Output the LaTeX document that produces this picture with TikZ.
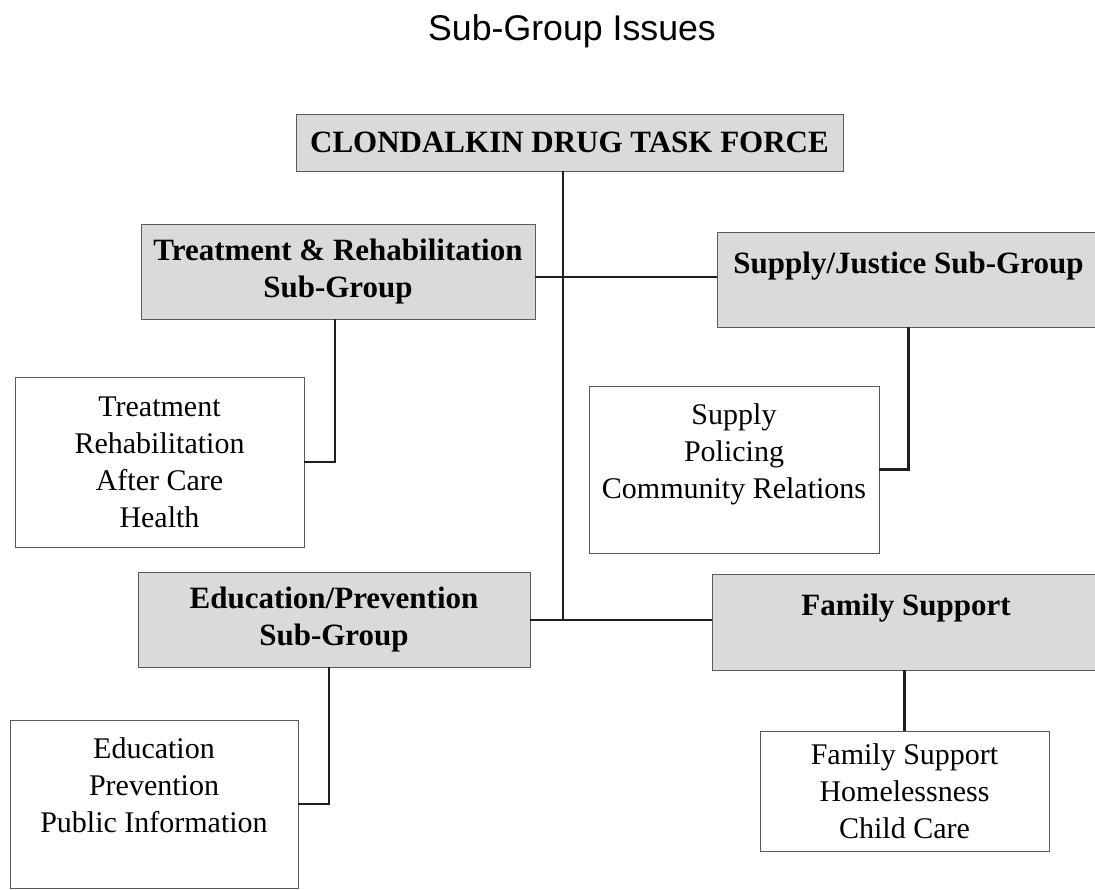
\documentclass[tikz,border=0pt]{standalone}
\usepackage{fontspec}
\setmainfont{Liberation Serif}
\newfontfamily\titlefont{Liberation Sans}
\usetikzlibrary{positioning}
\definecolor{SGFill}{RGB}{218, 218, 220}
\definecolor{SGEdge}{RGB}{90, 90, 90}
\definecolor{SGLine}{RGB}{30, 30, 30}

\begin{document}
\begin{tikzpicture}[
  x=1pt, y=-1pt,
  every node/.style={inner sep=0pt, outer sep=0pt},
  head/.style={draw=SGEdge, line width=0.9pt, fill=SGFill, align=center,
               font=\fontsize{31}{37}\selectfont\bfseries},
  list/.style={draw=SGEdge, line width=0.9pt, fill=white, align=center,
               font=\fontsize{30}{37}\selectfont},
  link/.style={line width=2.5pt, draw=SGLine}
]
  \useasboundingbox (0,0) rectangle (1095,890);

  %% Title
  \node[font=\titlefont\fontsize{35.7}{43}\selectfont] (title) at (572,31) {Sub-Group Issues};

  %% Nodes
  \node[head, minimum width=547, minimum height=57]  (top)  at (569.5,142.5) {CLONDALKIN DRUG TASK FORCE};
  \node[head, minimum width=394, minimum height=95]  (tr)   at (338,271.5)   {Treatment \& Rehabilitation\\Sub-Group};
  \node[head, minimum width=383, minimum height=95, text depth=34pt] (sj) at (908.5,279.5) {Supply/Justice Sub-Group};
  \node[head, minimum width=392, minimum height=95]  (ep)   at (334,619.5)   {Education/Prevention\\Sub-Group};
  \node[head, minimum width=388, minimum height=96, text depth=34pt] (fs) at (906,622) {Family Support};

  \node[list, minimum width=289, minimum height=170] (trlist)  at (159.5,462) {Treatment\\Rehabilitation\\After Care\\Health};
  \node[list, minimum width=290, minimum height=167] (suplist) at (734,469.5) {Supply\\Policing\\Community Relations\\\mbox{}};
  \node[list, minimum width=288, minimum height=168] (eplist)  at (154,804)   {Education\\Prevention\\Public Information\\\mbox{}};
  \node[list, minimum width=289, minimum height=120] (fslist)  at (904.5,791) {Family Support\\Homelessness\\Child Care};

  %% Connectors
  \coordinate (upper) at (563,277);
  \coordinate (hub)   at (563,620);
  \draw[link] (top.south -| hub) -- (hub);
  \draw[link] (upper -| tr.east) -- (upper -| sj.west);
  \draw[link] (hub -| ep.east)   -- (hub -| fs.west);
  \draw[link] ([xshift=-3pt]tr.south) |- (trlist.east);
  \draw[link] (sj.south) |- (suplist.east);
  \draw[link] ([xshift=-5pt]ep.south) |- (eplist.east);
  \draw[link] (fslist.north |- fs.south) -- (fslist.north);
\end{tikzpicture}
\end{document}
